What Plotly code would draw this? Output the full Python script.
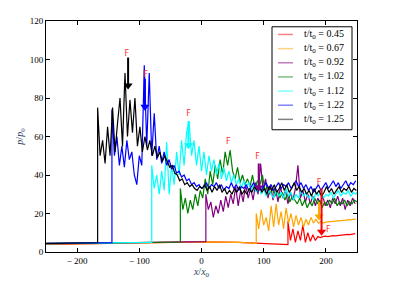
import numpy as np
import plotly.graph_objects as go

labels = ["0.45", "0.67", "0.92", "1.02", "1.12", "1.22", "1.25"]
colors = ["#ff0000", "#ffa500", "#800080", "#008000", "#00ffff", "#0000ff", "#000000"]
legend_colors = ["#ff8080", "#ffd280", "#c080c0", "#80c080", "#80ffff", "#8080ff", "#808080"]

# pre-shock baseline (x, p/p0)
base_x = {
    "0.45": [-250, -100, 0, 60, 100, 139],
    "0.67": [-250, -100, 0, 60, 88],
    "0.92": [-250, -100, 7],
    "1.02": [-250, -34],
    "1.12": [-250, -80],
    "1.22": [-250, -144],
    "1.25": [-250, -167],
}
base_y = {
    "0.45": [4.0, 4.8, 5.3, 5.0, 4.2, 3.8],
    "0.67": [4.0, 4.8, 5.3, 5.0, 4.5],
    "0.92": [4.2, 4.9, 5.4],
    "1.02": [4.3, 5.2],
    "1.12": [4.4, 5.0],
    "1.22": [4.5, 4.9],
    "1.25": [4.5, 4.8],
}
# post-shock samples (step 4 in x starting at the shock)
step = 4
post_y = {
    "0.45": [16, 6, 12, 5, 11, 6, 14, 5, 10, 5.5, 9, 6, 8, 7.5, 8, 8.2, 8, 8.3, 8.5, 8.4,
             8.6, 8.8, 8.7, 9, 9.2, 9, 9.3, 9.5],
    "0.67": [20, 12, 22, 14, 18, 11, 24, 13, 25, 14, 21, 12, 23, 15, 20, 13, 19, 14, 18, 13,
             17, 14, 18, 15, 17, 15, 16, 15, 15.5, 15.6, 15.8, 16, 15.9, 16.2, 16.4, 16.3,
             16.6, 16.8, 16.7, 17, 17.1],
    "0.92": [30, 22, 26, 18, 24, 20, 27, 21, 29, 23, 30, 25, 34, 24, 32, 26, 35, 28, 33, 27,
             36, 30, 46, 32, 38, 28, 35, 27, 33, 26, 34, 28, 32, 25, 31, 27, 33, 45, 28, 32,
             26, 30, 25, 29, 24, 28, 25, 29, 24, 27, 23, 28, 25, 29, 24, 28, 22, 27, 24, 28, 25],
    "1.02": [33, 22, 28, 20, 27, 22, 30, 24, 32, 28, 38, 30, 42, 35, 45, 38, 48, 40, 52, 45,
             53, 42, 38, 44, 36, 40, 35, 38, 34, 40, 33, 37, 35, 40, 32, 34, 30, 33, 29, 32,
             28, 31, 27, 30, 26, 29, 27, 25, 28, 24, 27, 23, 26, 24, 28, 25, 27, 23, 26, 24,
             27, 25, 28, 24, 26, 25, 27, 24, 26, 25, 27, 26],
    "1.12": [45, 33, 40, 30, 42, 32, 57, 30, 45, 35, 52, 40, 58, 45, 62, 68, 50, 58, 45, 55,
             42, 52, 40, 50, 42, 48, 40, 46, 38, 44, 37, 42, 36, 40, 35, 38, 33, 37, 34, 36,
             32, 35, 31, 34, 30, 33, 29, 32, 30, 28, 32, 29, 31, 28, 33, 29, 31, 27, 30, 28,
             32, 29, 31, 28, 30, 27, 31, 29, 32, 28, 30, 29, 31, 28, 30, 32, 29, 31, 30, 32,
             29, 31, 30, 32],
    "1.22": [74, 50, 60, 45, 55, 44, 58, 48, 52, 40, 35, 50, 45, 97, 55, 93, 50, 72, 48, 55,
             46, 52, 45, 48, 43, 45, 41, 42, 39, 40, 37, 38, 35, 36, 34, 35, 33,
             34, 36, 33, 35, 34, 36, 33, 35, 32, 34, 33, 36, 33, 35, 32, 34, 33, 35, 32, 34,
             36, 33, 35, 32, 34, 36, 33, 35, 32, 34, 36, 33, 35, 34, 36, 33, 35, 37, 34, 36,
             33, 35, 32, 34, 31, 33, 35, 32, 34, 36, 33, 35, 37, 34, 36, 33, 35, 37, 34, 36,
             35, 37],
    "1.25": [75, 50, 58, 46, 65, 50, 75, 52, 67, 80, 55, 93, 60, 79, 62, 80, 55, 65, 52, 60,
             53, 58, 50, 55, 49, 52, 47, 50, 47, 44, 45, 41, 40, 37, 38, 35, 36, 34, 35, 33,
             32, 34, 33, 35, 32, 34, 31, 34, 32, 35, 31, 33, 30, 32, 30, 33, 31, 34, 30, 32,
             30, 33, 31, 34, 32, 35, 31, 33, 30, 34, 32, 35, 31, 33, 36, 32, 35, 31, 33, 36,
             32, 34, 31, 33, 30, 32, 29, 33, 30, 32, 29, 31, 34, 31, 33, 30, 32, 34, 31, 33,
             32, 34, 31, 33, 32],
}

# arrows: (label, x, tail_y, head_y)
arrows = [
    ("1.25", -118, 101, 85),
    ("1.22", -91, 90, 74),
    ("1.12", -21, 68, 54),
    ("0.92", 92, 46, 32),
    ("0.67", 189, 26, 17),
    ("0.45", 193, 33, 9),
]
# F markers (x, y)
f_x = [-120, -90, -21, 43, 90, 189, 204]
f_y = [103, 92, 71.5, 57, 49.5, 36, 11.5]

xtick_vals = [-200, -100, 0, 100, 200]
xtick_text = ["\u2212 200", "\u2212 100", "0", "100", "200"]
ytick_vals = [0, 20, 40, 60, 80, 100, 120]

fig = go.Figure()
serif = "Liberation Serif"

for lab, col in zip(labels, colors):
    sx = base_x[lab][-1]
    ys = post_y[lab]
    px = list(sx + step * np.arange(len(ys)))
    x = base_x[lab] + px
    y = base_y[lab] + ys
    fig.add_trace(go.Scatter(x=x, y=y, mode="lines", line=dict(color=col, width=1.2),
                             name="t/t0 = " + lab, showlegend=False, hoverinfo="skip"))

col_of = dict(zip(labels, colors))
for lab, ax_, tail, head in arrows:
    c = col_of[lab]
    fig.add_trace(go.Scatter(x=[ax_, ax_], y=[tail, head + 2], mode="lines",
                             line=dict(color=c, width=2), showlegend=False, hoverinfo="skip"))
    fig.add_trace(go.Scatter(x=[ax_], y=[head + 1.5], mode="markers",
                             marker=dict(symbol="triangle-down", size=8, color=c),
                             showlegend=False, hoverinfo="skip"))

fig.add_trace(go.Scatter(x=f_x, y=f_y, mode="text", text=["F"] * len(f_x),
                         textfont=dict(family="DejaVu Sans", size=8, color="#ff3030"),
                         showlegend=False, hoverinfo="skip"))

# hand-built legend box (paper coordinates)
plot_l, plot_t, plot_w, plot_h = 46, 16, 311, 240
def px2paper_x(p):
    return (p - plot_l) / plot_w
def px2paper_y(p):
    return (plot_t + plot_h - p) / plot_h

fig.add_shape(type="rect", xref="paper", yref="paper",
              x0=px2paper_x(272), x1=px2paper_x(352), y0=px2paper_y(129), y1=px2paper_y(22),
              line=dict(color="black", width=1), fillcolor="white", layer="above")
row_y0, row_dy = 30, 14.7
for i, (lab, lc) in enumerate(zip(labels, legend_colors)):
    yc = px2paper_y(row_y0 + i * row_dy)
    fig.add_shape(type="line", xref="paper", yref="paper",
                  x0=px2paper_x(278), x1=px2paper_x(293), y0=yc, y1=yc,
                  line=dict(color=lc, width=1.5), layer="above")
    fig.add_annotation(xref="paper", yref="paper", x=px2paper_x(302), y=yc,
                       xanchor="left", yanchor="middle", showarrow=False,
                       text="t/t<sub>0</sub> = " + lab,
                       font=dict(family=serif, size=10, color="black"))

axis_common = dict(showline=True, linecolor="black", linewidth=1, mirror="ticks",
                   ticks="inside", ticklen=4, tickcolor="black", showgrid=False,
                   zeroline=False, tickfont=dict(family=serif, size=9, color="black"))

fig.update_xaxes(range=[-250, 250], tickvals=xtick_vals, ticktext=xtick_text,
                 title=dict(text="<i>x</i>/<i>x</i><sub>0</sub>", font=dict(family=serif, size=10),
                            standoff=2),
                 **axis_common)
fig.update_yaxes(range=[0, 120], tickvals=ytick_vals,
                 title=dict(text="<i>p</i>/<i>p</i><sub>0</sub>", font=dict(family=serif, size=10),
                            standoff=4),
                 **axis_common)

fig.update_layout(
    width=385, height=275,
    margin=dict(l=38, r=36, t=8, b=27),
    plot_bgcolor="white", paper_bgcolor="white",
    showlegend=False,
)

fig.write_html("out.html")
